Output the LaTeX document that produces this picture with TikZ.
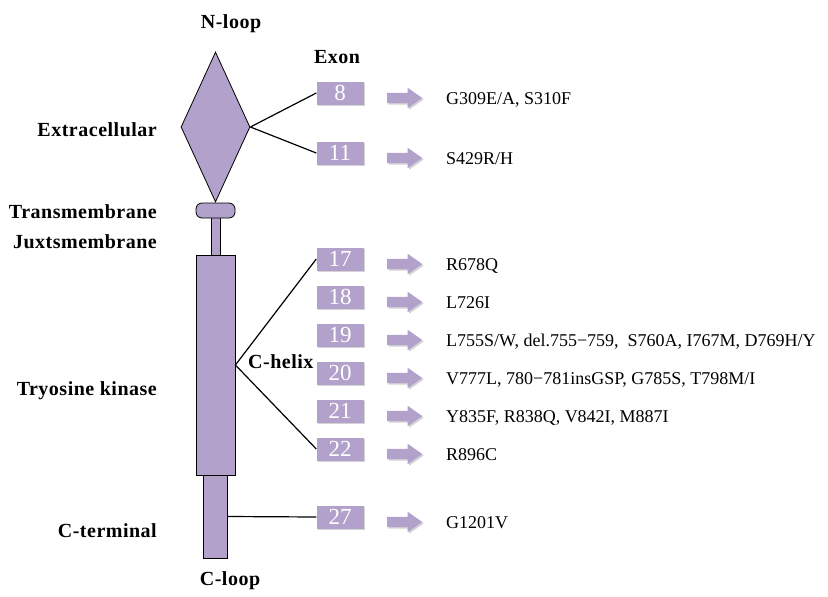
\documentclass[tikz,border=0pt]{standalone}
\usepackage{fontspec}
\setmainfont{Liberation Serif}
\usetikzlibrary{shapes.geometric,shapes.arrows,shadows}
\definecolor{lav}{RGB}{178,161,202}
\begin{document}
\begin{tikzpicture}[x=1pt,y=-1pt,
  protpart/.style={draw=black, line width=0.8pt, fill=lav, inner sep=0pt},
  exonbox/.style={fill=lav, minimum width=47pt, minimum height=23pt, inner sep=0pt,
    text=white, font=\fontsize{23}{23}\selectfont,
    drop shadow={opacity=0.35, shadow xshift=1.5pt, shadow yshift=-1.5pt}},
  pointer/.style={single arrow, fill=lav, draw=none, minimum height=35pt, minimum width=20pt,
    inner xsep=0pt, inner ysep=5pt, single arrow head extend=5pt, single arrow tip angle=70,
    drop shadow={opacity=0.35, shadow xshift=1.5pt, shadow yshift=-1.5pt}},
  region/.style={font=\bfseries\fontsize{20}{20}\selectfont\addfontfeature{LetterSpace=2.5}, inner sep=0pt},
  mut/.style={font=\fontsize{18}{18}\selectfont, inner sep=0pt, anchor=base west},
  link/.style={draw=black, line width=1.2pt}
]
\useasboundingbox (0,0) rectangle (828,597);

% receptor domains
\node[protpart, minimum width=24pt, minimum height=83pt] (ct) at (215,516.5) {};
\node[protpart, minimum width=9pt, minimum height=40pt] (jm) at (215.5,237) {};
\node[protpart, minimum width=39pt, minimum height=220pt] (kin) at (215.5,365) {};
\node[protpart, rounded corners=6pt, minimum width=39pt, minimum height=15pt] (tm) at (215.5,210.5) {};
\node[protpart, diamond, minimum width=69pt, minimum height=150pt, aspect=0.46] (ecd) at (215.5,127) {};

% region labels
\node[region, anchor=base] (nloop) at (231,28) {N-loop};
\node[region, anchor=base] (exon) at (337,63) {Exon};
\node[region, anchor=base east] (extra) at (157,136) {Extracellular};
\node[region, anchor=base east] (trans) at (157,218) {Transmembrane};
\node[region, anchor=base east] (juxta) at (157,248) {Juxtsmembrane};
\node[region, anchor=base east] (tk) at (157,395) {Tryosine kinase};
\node[region, anchor=base east] (cterm) at (157,537) {C-terminal};
\node[region, anchor=base] (cloop) at (230,585) {C-loop};
\node[region, anchor=base west] (chelix) at (248,368) {C-helix};

% exons, arrows and mutations
\foreach \ex/\y/\txt in {
  8/93/{G309E/A, S310F},
  11/153/{S429R/H},
  17/259/{R678Q},
  18/297/{L726I},
  19/335/{L755S/W, del.755−759,\ \ S760A, I767M, D769H/Y},
  20/373/{V777L, 780−781insGSP, G785S, T798M/I},
  21/411/{Y835F, R838Q, V842I, M887I},
  22/449/{R896C},
  27/517/{G1201V}}{
  \node[exonbox] (b\ex) at (340,\y) {\ex};
  \node[pointer] (a\ex) at (401,\y+5) {};
  \node[mut] (m\ex) at (446,\y+11.5) {\txt};
}

% connectors from domains to exons
\draw[link] (ecd.east) -- (b8.west);
\draw[link] (ecd.east) -- (b11.west);
\coordinate (hx) at (kin.east);
\draw[link] (b17.west) -- (hx) -- (b22.west);
\draw[link] (ct.east) -- (b27.west);
\end{tikzpicture}
\end{document}
